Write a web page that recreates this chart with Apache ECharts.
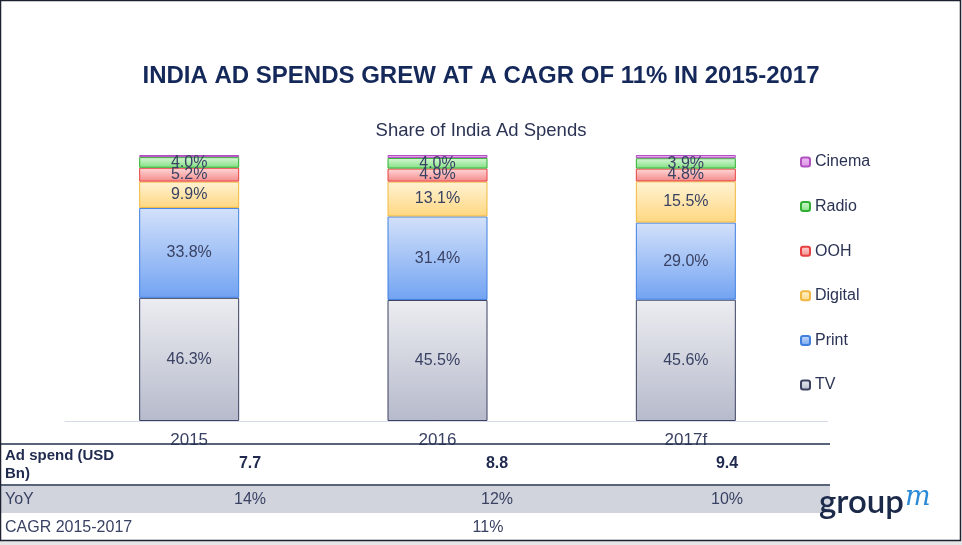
<!DOCTYPE html>
<html><head><meta charset="utf-8">
<script src="https://cdn.jsdelivr.net/npm/echarts@6/dist/echarts.min.js"></script>
<style>html,body{margin:0;padding:0;background:#fff}#c{width:962px;height:545px}</style>
</head><body><div id="c"></div>
<script>
const categories = ['2015', '2016', '2017f'];
const tv      = [46.3, 45.5, 45.6];
const print   = [33.8, 31.4, 29.0];
const digital = [9.9, 13.1, 15.5];
const ooh     = [5.2, 4.9, 4.8];
const radio   = [4.0, 4.0, 3.9];
const cinema  = [0.8, 1.1, 1.2];
const adSpend = ['7.7', '8.8', '9.4'];
const yoy     = ['14%', '12%', '10%'];
const cagr    = '11%';

const chart = echarts.init(document.getElementById('c'), null, {renderer: 'canvas'});
function grad(top, bottom) {
  return new echarts.graphic.LinearGradient(0, 0, 0, 1, [{offset: 0, color: top}, {offset: 1, color: bottom}]);
}
const txt = '#2b3354';
function ser(name, data, top, bottom, border, showLabel) {
  return {
    name, type: 'bar', stack: 'a', data, barWidth: 100,
    itemStyle: {color: grad(top, bottom), borderColor: border, borderWidth: 1},
    label: {show: showLabel, position: 'inside', formatter: p => p.value.toFixed(1) + '%',
            color: '#3a4264', fontSize: 16, fontFamily: 'Liberation Sans'}
  };
}
const font = 'Liberation Sans';
const gx = [250, 497, 727];
const graphics = [
  {type: 'rect', shape: {x: 0.5, y: 0.5, width: 960, height: 540}, style: {fill: 'none', stroke: '#1e2230', lineWidth: 1.5}, z: 10},
  {type: 'rect', shape: {x: 0, y: 541, width: 962, height: 4}, style: {fill: '#e6e6e6'}},
  {type: 'line', shape: {x1: 810, y1: 421.5, x2: 828, y2: 421.5}, style: {stroke: '#d5dbe8', lineWidth: 1}},
  {type: 'text', left: 'center', top: 64, style: {text: 'INDIA AD SPENDS GREW AT A CAGR OF 11% IN 2015-2017', fill: '#14285a', font: 'bold 24px Liberation Sans'}},
  {type: 'text', left: 'center', top: 121, style: {text: 'Share of India Ad Spends', fill: txt, font: '18.5px Liberation Sans'}},
  {type: 'rect', shape: {x: 0, y: 486, width: 830, height: 27}, style: {fill: '#d1d4dc'}},
  {type: 'line', shape: {x1: 0, y1: 444, x2: 830, y2: 444}, style: {stroke: '#22304f', lineWidth: 1.5}, z: 5},
  {type: 'line', shape: {x1: 0, y1: 485, x2: 830, y2: 485}, style: {stroke: '#22304f', lineWidth: 1.5}, z: 5},
  {type: 'text', x: 5, y: 447, style: {text: 'Ad spend (USD\nBn)', fill: '#1f2a4e', font: 'bold 15px Liberation Sans', lineHeight: 18}},
  {type: 'text', x: 5, y: 492, style: {text: 'YoY', fill: '#3a4264', font: '16px Liberation Sans'}},
  {type: 'text', x: 5, y: 520, style: {text: 'CAGR 2015-2017', fill: '#3a4264', font: '16px Liberation Sans'}},
  {type: 'text', x: 488, y: 520, style: {text: cagr, fill: '#3a4264', font: '16px Liberation Sans', textAlign: 'center'}},
  {type: 'text', x: 819, y: 486, style: {text: 'group', fill: '#1c2a4a', font: '600 33px Lato', lineHeight: 33}},
  {type: 'text', x: 905, y: 484, style: {text: 'm', fill: '#2a8ad8', font: 'italic 27px DejaVu Serif'}}
];
adSpend.forEach((v, i) => graphics.push({type: 'text', x: gx[i], y: 456, style: {text: v, fill: '#1f2a4e', font: 'bold 16px Liberation Sans', textAlign: 'center'}}));
yoy.forEach((v, i) => graphics.push({type: 'text', x: gx[i], y: 492, style: {text: v, fill: '#3a4264', font: '16px Liberation Sans', textAlign: 'center'}}));

chart.setOption({
  animation: false,
  backgroundColor: '#fff',
  textStyle: {fontFamily: font},
  grid: {left: 65, right: 152, top: 155, bottom: 124},
  legend: {
    orient: 'vertical', left: 795, top: 149, itemWidth: 9, itemHeight: 9, itemGap: 28.6,
    data: ['Cinema', 'Radio', 'OOH', 'Digital', 'Print', 'TV'],
    textStyle: {color: txt, fontSize: 16, lineHeight: 16, fontFamily: font}
  },
  xAxis: {type: 'category', data: categories,
    axisLine: {lineStyle: {color: '#d5dbe8'}}, axisTick: {show: false},
    axisLabel: {color: '#3a4264', fontSize: 17, fontFamily: font, margin: 11}},
  yAxis: {type: 'value', min: 0, max: 100, show: false, splitLine: {show: false}},
  series: [
    ser('TV', tv, '#ecedf1', '#b6bacb', '#3c4160', true),
    ser('Print', print, '#d3e1fa', '#72a3f2', '#3f7fe0', true),
    ser('Digital', digital, '#fff3d4', '#ffd780', '#f0b840', true),
    ser('OOH', ooh, '#ffd8d8', '#f48a8a', '#e84040', true),
    ser('Radio', radio, '#d8f7d8', '#80e080', '#30b030', true),
    ser('Cinema', cinema, '#efc0f5', '#dc90e6', '#b050c0', false)
  ],
  graphic: graphics
});
</script></body></html>
